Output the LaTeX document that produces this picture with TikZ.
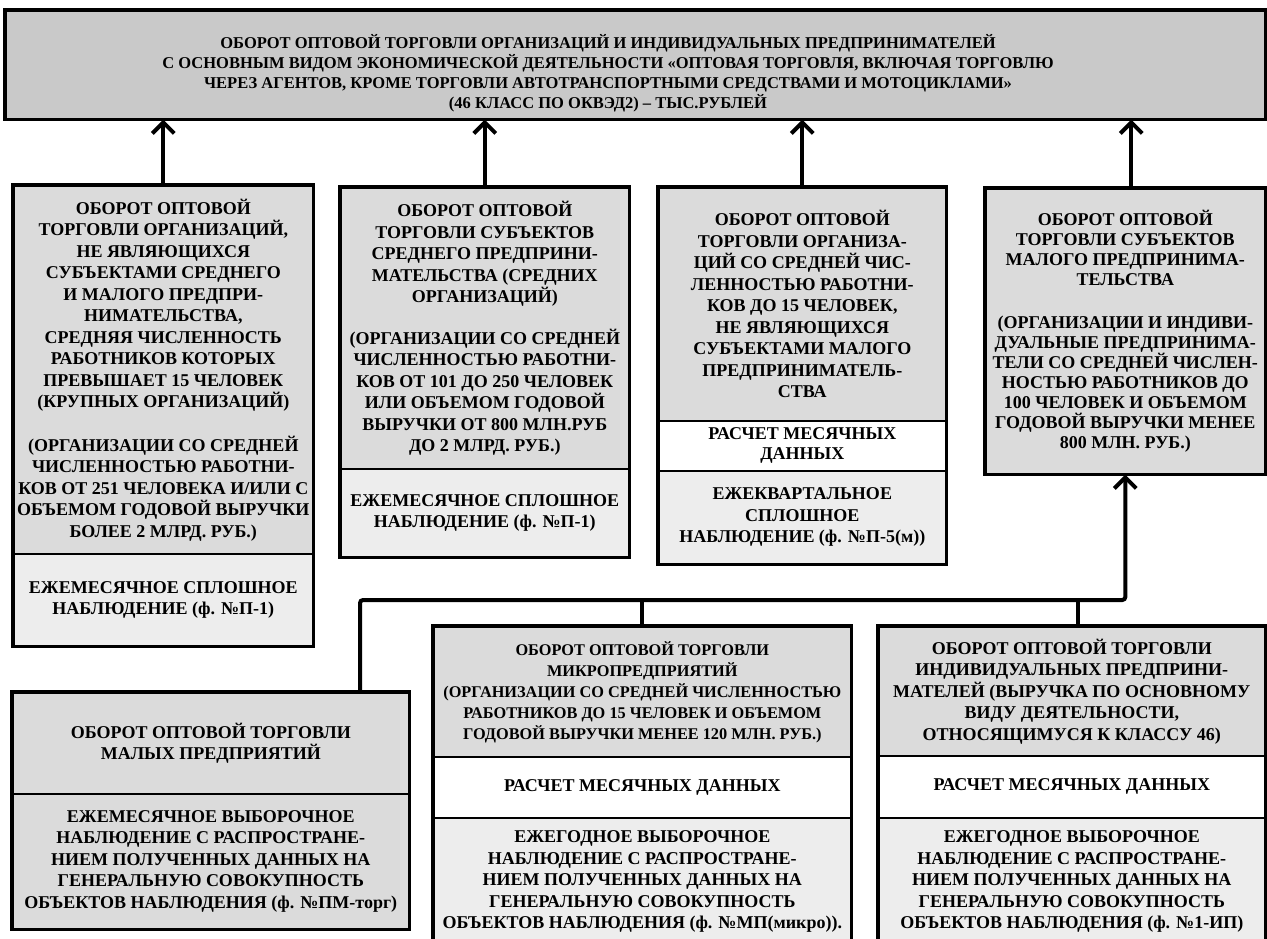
\documentclass[tikz,border=0pt]{standalone}
\usepackage{fontspec}
\setmainfont{Liberation Serif}
\usetikzlibrary{arrows.meta}
\begin{document}
\begin{tikzpicture}[x=1pt,y=-1pt,
  sec/.style={draw=black, line width=1.6pt, anchor=north west, align=center,
    inner sep=1pt, font=\bfseries\fontsize{18}{21.5}\selectfont},
  dark/.style={fill=gray!42},
  mid/.style={fill=gray!28},
  light/.style={fill=gray!14},
  blank/.style={fill=white},
  frame/.style={draw=black, line width=3.2pt},
  conn/.style={line width=4pt, draw=black},
  arr/.style={conn, -{Straight Barb[length=11pt,width=22pt,line width=4pt]}}
]
\fill[white] (0,0) rectangle (1267,939);
\clip (0,0) rectangle (1267,939);

% top box
\node[sec, dark, minimum width=1259pt, minimum height=108pt] (top) at (5,10) {};
\node[align=center, inner sep=0pt, font=\bfseries\fontsize{16.5}{20}\selectfont]
  (toptxt) at (608,73)
  {ОБОРОТ ОПТОВОЙ ТОРГОВЛИ ОРГАНИЗАЦИЙ И ИНДИВИДУАЛЬНЫХ ПРЕДПРИНИМАТЕЛЕЙ\\
   С ОСНОВНЫМ ВИДОМ ЭКОНОМИЧЕСКОЙ ДЕЯТЕЛЬНОСТИ «ОПТОВАЯ ТОРГОВЛЯ, ВКЛЮЧАЯ ТОРГОВЛЮ\\
   ЧЕРЕЗ АГЕНТОВ, КРОМЕ ТОРГОВЛИ АВТОТРАНСПОРТНЫМИ СРЕДСТВАМИ И МОТОЦИКЛАМИ»\\
   (46 КЛАСС ПО ОКВЭД2) – ТЫС.РУБЛЕЙ};
\draw[frame] (top.north west) rectangle (top.south east);

% box 1
\node[sec, mid, minimum width=299pt, minimum height=368pt] (b1a) at (13,185)
  {ОБОРОТ ОПТОВОЙ\\ТОРГОВЛИ ОРГАНИЗАЦИЙ,\\НЕ ЯВЛЯЮЩИХСЯ\\СУБЪЕКТАМИ СРЕДНЕГО\\
   И МАЛОГО ПРЕДПРИ-\\НИМАТЕЛЬСТВА,\\СРЕДНЯЯ ЧИСЛЕННОСТЬ\\РАБОТНИКОВ КОТОРЫХ\\
   ПРЕВЫШАЕТ 15 ЧЕЛОВЕК\\(КРУПНЫХ ОРГАНИЗАЦИЙ)\\[22pt]
   (ОРГАНИЗАЦИИ СО СРЕДНЕЙ\\ЧИСЛЕННОСТЬЮ РАБОТНИ-\\КОВ ОТ 251 ЧЕЛОВЕКА И/ИЛИ С\\
   ОБЪЕМОМ ГОДОВОЙ ВЫРУЧКИ\\БОЛЕЕ 2 МЛРД. РУБ.)};
\node[sec, light, minimum width=299pt, minimum height=92pt] (b1b) at (13,553)
  {ЕЖЕМЕСЯЧНОЕ СПЛОШНОЕ\\НАБЛЮДЕНИЕ (ф. №П-1)};
\draw[frame] (b1a.north west) rectangle (b1b.south east);

% box 2
\node[sec, mid, minimum width=288pt, minimum height=281pt] (b2a) at (340,187)
  {ОБОРОТ ОПТОВОЙ\\ТОРГОВЛИ СУБЪЕКТОВ\\СРЕДНЕГО ПРЕДПРИНИ-\\МАТЕЛЬСТВА (СРЕДНИХ\\
   ОРГАНИЗАЦИЙ)\\[20pt]
   (ОРГАНИЗАЦИИ СО СРЕДНЕЙ\\ЧИСЛЕННОСТЬЮ РАБОТНИ-\\КОВ ОТ 101 ДО 250 ЧЕЛОВЕК\\
   ИЛИ ОБЪЕМОМ ГОДОВОЙ\\ВЫРУЧКИ ОТ 800 МЛН.РУБ\\ДО 2 МЛРД. РУБ.)};
\node[sec, light, minimum width=288pt, minimum height=88pt] (b2b) at (340,468)
  {ЕЖЕМЕСЯЧНОЕ СПЛОШНОЕ\\НАБЛЮДЕНИЕ (ф. №П-1)};
\draw[frame] (b2a.north west) rectangle (b2b.south east);

% box 3
\node[sec, mid, minimum width=287pt, minimum height=233pt] (b3a) at (658,187)
  {ОБОРОТ ОПТОВОЙ\\ТОРГОВЛИ ОРГАНИЗА-\\ЦИЙ СО СРЕДНЕЙ ЧИС-\\ЛЕННОСТЬЮ РАБОТНИ-\\
   КОВ ДО 15 ЧЕЛОВЕК,\\НЕ ЯВЛЯЮЩИХСЯ\\СУБЪЕКТАМИ МАЛОГО\\ПРЕДПРИНИМАТЕЛЬ-\\СТВА};
\node[sec, blank, minimum width=287pt, minimum height=50pt,
  font=\bfseries\fontsize{18}{20}\selectfont] (b3b) at (658,420)
  {РАСЧЕТ МЕСЯЧНЫХ\\ДАННЫХ};
\node[sec, light, minimum width=287pt, minimum height=93pt] (b3c) at (658,470)
  {ЕЖЕКВАРТАЛЬНОЕ\\СПЛОШНОЕ\\НАБЛЮДЕНИЕ (ф. №П-5(м))};
\draw[frame] (b3a.north west) rectangle (b3c.south east);

% box 4
\node[sec, mid, minimum width=279pt, minimum height=285pt,
  font=\bfseries\fontsize{18}{20}\selectfont] (b4) at (985,188)
  {ОБОРОТ ОПТОВОЙ\\ТОРГОВЛИ СУБЪЕКТОВ\\МАЛОГО ПРЕДПРИНИМА-\\ТЕЛЬСТВА\\[23pt]
   (ОРГАНИЗАЦИИ И ИНДИВИ-\\ДУАЛЬНЫЕ ПРЕДПРИНИМА-\\ТЕЛИ СО СРЕДНЕЙ ЧИСЛЕН-\\
   НОСТЬЮ РАБОТНИКОВ ДО\\100 ЧЕЛОВЕК И ОБЪЕМОМ\\ГОДОВОЙ ВЫРУЧКИ МЕНЕЕ\\800 МЛН. РУБ.)};
\draw[frame] (b4.north west) rectangle (b4.south east);

% box 5
\node[sec, mid, minimum width=396pt, minimum height=101pt] (b5a) at (12,692)
  {ОБОРОТ ОПТОВОЙ ТОРГОВЛИ\\МАЛЫХ ПРЕДПРИЯТИЙ};
\node[sec, mid, minimum width=396pt, minimum height=135pt] (b5b) at (12,793)
  {ЕЖЕМЕСЯЧНОЕ ВЫБОРОЧНОЕ\\НАБЛЮДЕНИЕ С РАСПРОСТРАНЕ-\\НИЕМ ПОЛУЧЕННЫХ ДАННЫХ НА\\
   ГЕНЕРАЛЬНУЮ СОВОКУПНОСТЬ\\ОБЪЕКТОВ НАБЛЮДЕНИЯ (ф. №ПМ-торг)};
\draw[frame] (b5a.north west) rectangle (b5b.south east);

% box 6
\node[sec, mid, minimum width=417pt, minimum height=130pt,
  font=\bfseries\fontsize{16.3}{21}\selectfont] (b6a) at (433,626)
  {ОБОРОТ ОПТОВОЙ ТОРГОВЛИ\\МИКРОПРЕДПРИЯТИЙ\\(ОРГАНИЗАЦИИ СО СРЕДНЕЙ ЧИСЛЕННОСТЬЮ\\
   РАБОТНИКОВ ДО 15 ЧЕЛОВЕК И ОБЪЕМОМ\\ГОДОВОЙ ВЫРУЧКИ МЕНЕЕ 120 МЛН. РУБ.)};
\node[sec, blank, minimum width=417pt, minimum height=61pt] (b6b) at (433,756)
  {РАСЧЕТ МЕСЯЧНЫХ ДАННЫХ};
\node[sec, light, minimum width=417pt, minimum height=128pt] (b6c) at (433,817)
  {ЕЖЕГОДНОЕ ВЫБОРОЧНОЕ\\НАБЛЮДЕНИЕ С РАСПРОСТРАНЕ-\\НИЕМ ПОЛУЧЕННЫХ ДАННЫХ НА\\
   ГЕНЕРАЛЬНУЮ СОВОКУПНОСТЬ\\ОБЪЕКТОВ НАБЛЮДЕНИЯ (ф. №МП(микро)).};
\draw[frame] (b6a.north west) rectangle (b6c.south east);

% box 7
\node[sec, mid, minimum width=386pt, minimum height=129pt] (b7a) at (878,626)
  {ОБОРОТ ОПТОВОЙ ТОРГОВЛИ\\ИНДИВИДУАЛЬНЫХ ПРЕДПРИНИ-\\МАТЕЛЕЙ (ВЫРУЧКА ПО ОСНОВНОМУ\\
   ВИДУ ДЕЯТЕЛЬНОСТИ,\\ОТНОСЯЩИМУСЯ К КЛАССУ 46)};
\node[sec, blank, minimum width=386pt, minimum height=62pt] (b7b) at (878,755)
  {РАСЧЕТ МЕСЯЧНЫХ ДАННЫХ};
\node[sec, light, minimum width=386pt, minimum height=128pt] (b7c) at (878,817)
  {ЕЖЕГОДНОЕ ВЫБОРОЧНОЕ\\НАБЛЮДЕНИЕ С РАСПРОСТРАНЕ-\\НИЕМ ПОЛУЧЕННЫХ ДАННЫХ НА\\
   ГЕНЕРАЛЬНУЮ СОВОКУПНОСТЬ\\ОБЪЕКТОВ НАБЛЮДЕНИЯ (ф. №1-ИП)};
\draw[frame] (b7a.north west) rectangle (b7c.south east);

% arrows to top box
\draw[arr] (b1a.north) -- (b1a.north |- top.south);
\draw[arr] (b2a.north) -- (b2a.north |- top.south);
\draw[arr] (b3a.north) -- (b3a.north |- top.south);
\draw[arr] ([xshift=6pt]b4.north) -- ([xshift=6pt]b4.north |- top.south);

% lower connector tree
\coordinate (j5) at (360,600);
\coordinate (j6) at (642,600);
\coordinate (j7) at (1078,600);
\coordinate (j4) at (b4.south |- j5);
\draw[arr, rounded corners=3pt] (b5a.north -| j5) -- (j5) -- (j4) -- (b4.south);
\draw[conn] (j6) -- (j6 |- b6a.north);
\draw[conn] (j7) -- (j7 |- b7a.north);
\end{tikzpicture}
\end{document}
